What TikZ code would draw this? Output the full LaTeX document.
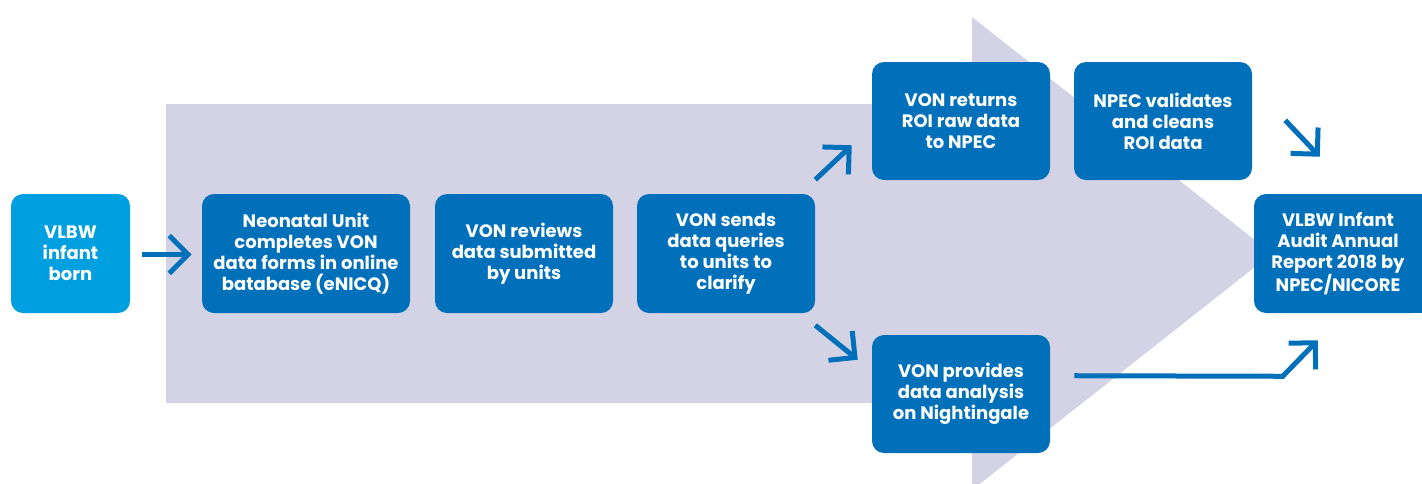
\documentclass[tikz,border=0pt]{standalone}
\usepackage{fontspec}
\setmainfont{Poppins}
\usetikzlibrary{arrows.meta,calc}
\definecolor{vonblue}{HTML}{0070BA}
\definecolor{lightblue}{HTML}{009FDF}
\definecolor{lavender}{HTML}{D4D3E6}
\tikzset{
  box/.style={fill=vonblue, rounded corners=9pt, text=white, align=center,
    font=\bfseries\fontsize{13.5}{15.75}\selectfont, inner sep=0pt,
    minimum width=178*0.75pt, minimum height=119*0.75pt},
  arr/.style={draw=vonblue, line width=3.75pt,
    -{Straight Barb[angle=90:20pt]}},
}
\begin{document}
\begin{tikzpicture}[x=0.75pt,y=-0.75pt]
\useasboundingbox (0,0) rectangle (1422,483);
\clip (0,0) rectangle (1422,483);
% big background arrow
\fill[lavender] (166,104) -- (972,104) -- (972,17) -- (1272,253.5) -- (972,490) -- (972,403) -- (166,403) -- cycle;
% right part of the report box, running off the page
\fill[vonblue] (1320,194) rectangle (1440,313);
% nodes
\node[box, fill=lightblue, minimum width=119*0.75pt] (born) at (70.5,253.5) {VLBW\\infant\\born};
\node[box, minimum width=208*0.75pt] (neo) at (306,253.5) {Neonatal Unit\\completes VON\\data forms in online\\batabase (eNICQ)};
\node[box] (rev) at (524,253.5) {VON reviews\\data submitted\\by units};
\node[box] (sends) at (726,253.5) {VON sends\\data queries\\to units to\\clarify};
\node[box, minimum height=118*0.75pt] (ret) at (961,121) {VON returns\\ROI raw data\\to NPEC};
\node[box, minimum height=118*0.75pt] (val) at (1163,121) {NPEC validates\\and cleans\\ROI data};
\node[box, minimum height=118*0.75pt] (prov) at (961,394) {VON provides\\data analysis\\on Nightingale};
\node[box, minimum width=168*0.75pt] (rep) at (1338,253.5) {VLBW Infant\\Audit Annual\\Report 2018 by\\NPEC/NICORE};
% connectors
\draw[arr] ($(born.east)+(12,1)$) -- ($(neo.west)+(-10,1)$);
\draw[arr] ($(sends.north east)+(0,-14)$) -- ($(ret.south west)+(-20,-35)$);
\draw[arr] ($(sends.south east)+(0,12)$) -- ($(prov.north west)+(-14,25)$);
\draw[arr] ($(val.south east)+(33,-60)$) -- ($(rep.north west)+(66,-37)$);
\draw[arr] ($(prov.north east)+(24,41)$) -- ($(rep.south west)+(29,63)$) -- ($(rep.south west)+(64,27)$);
\end{tikzpicture}
\end{document}
